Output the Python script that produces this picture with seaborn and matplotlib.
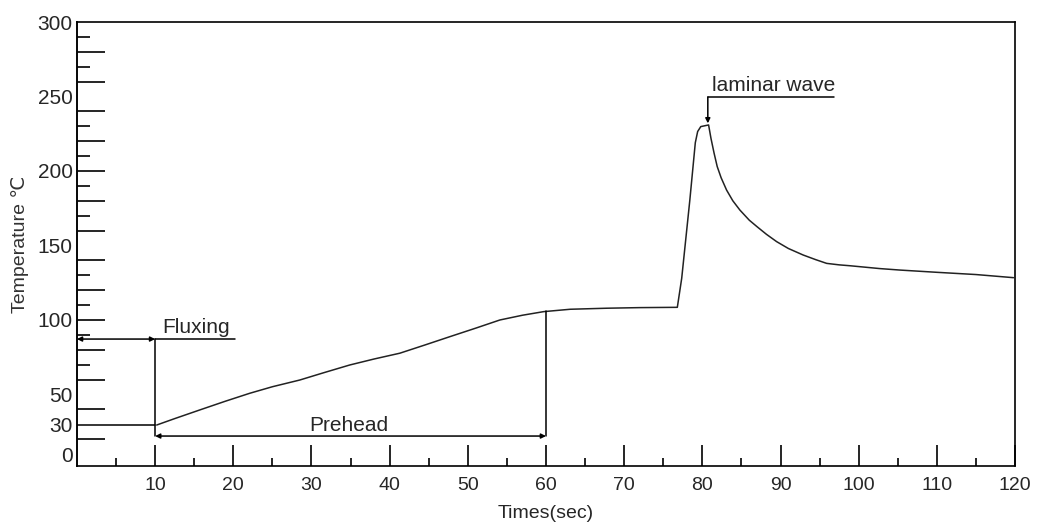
import matplotlib
matplotlib.use("Agg")
import matplotlib.pyplot as plt
from matplotlib import font_manager
import seaborn as sns
import pandas as pd

# temperature profile (time in s, temperature in degC)
time_s = [10.2, 12.5, 15.7, 19.0, 22.1, 25.0, 28.5, 31.5, 34.9, 38.0, 41.3, 44.5,
          47.7, 51.0, 54.1, 57.0, 59.7, 63.1, 67.8, 72.0, 76.8, 77.36, 78.4, 79.1,
          79.4, 79.8, 80.8, 81.1, 81.5, 81.9, 82.4, 83.1, 83.9, 84.8, 86.0, 87.0,
          88.2, 89.5, 91.0, 92.9, 94.5, 95.9, 97.5, 98.9, 102.7, 105.3, 110.0,
          115.0, 119.8]
temp_c = [29.5, 33.8, 39.6, 45.5, 50.8, 55.2, 59.7, 64.5, 69.8, 73.8, 77.7, 83.2,
          88.8, 94.5, 100.0, 103.2, 105.6, 107.2, 107.9, 108.3, 108.5, 128.0, 180.5, 219.0,
          226.5, 229.8, 230.9, 222.0, 212.0, 203.0, 195.5, 187.2, 180.0, 173.8, 167.0, 162.6,
          157.5, 152.6, 148.0, 143.6, 140.5, 138.0, 137.0, 136.4, 134.5, 133.5, 132.0,
          130.5, 128.4]

# x axis ticks
xtick_major = list(range(10, 130, 10))
xtick_minor = list(range(5, 120, 10))
# y axis labels (the "0" label sits a bit above the baseline in the original)
ytick_pos = [10, 30, 50, 100, 150, 200, 250, 300]
ytick_labels = ['0', '30', '50', '100', '150', '200', '250', '300']
ytick_long = list(range(20, 300, 20))
ytick_short = list(range(10, 300, 20))

# annotation levels
flux_start, flux_end, flux_level, flux_text_end = 0, 10, 87.2, 20.2
start_level = 29.8
pre_start, pre_end, pre_level, pre_top = 10, 60, 22.1, 105.8
lam_x, lam_text_end, lam_level, lam_peak = 80.7, 96.8, 249.7, 232.0

sns.set_style("white")
base_font = "Liberation Sans"
try:
    font_manager.findfont("Liberation Sans Narrow", fallback_to_default=False)
    narrow_font = "Liberation Sans Narrow"
except Exception:
    narrow_font = base_font
plt.rcParams['font.family'] = [base_font, 'DejaVu Sans']

df = pd.DataFrame({'Time': time_s, 'Temp': temp_c})

fig = plt.figure(figsize=(10.4, 5.24), dpi=100)
ax = fig.add_axes([0.074, 0.1107, 0.902, 0.8473])

sns.lineplot(data=df, x='Time', y='Temp', color='#222222', linewidth=1.1, ax=ax)

ax.set_xlim(0, 120)
ax.set_ylim(2, 300)

for sp in ax.spines.values():
    sp.set_color('black')
    sp.set_linewidth(1.2)

ax.set_xticks(xtick_major)
ax.set_xticklabels([str(v) for v in xtick_major], fontfamily=narrow_font, fontsize=14)
ax.set_xticks(xtick_minor, minor=True)
ax.tick_params(axis='x', which='major', direction='in', length=15, width=1.2,
               color='black', pad=8, bottom=True, top=False)
ax.tick_params(axis='x', which='minor', direction='in', length=6, width=1.2,
               color='black', bottom=True, top=False)

ax.set_yticks(ytick_pos)
ax.set_yticklabels(ytick_labels, fontsize=15)
ax.set_yticks(ytick_short, minor=True)
ax.tick_params(axis='y', which='major', direction='in', length=0, pad=3,
               left=True, right=False)
ax.tick_params(axis='y', which='minor', direction='in', length=9, width=1.2,
               color='black', left=True, right=False)
sec = ax.secondary_yaxis('left')
sec.set_yticks(ytick_long)
sec.set_yticklabels([])
sec.tick_params(axis='y', direction='in', length=20, width=1.2, color='black')
sec.spines['left'].set_linewidth(1.2)

ax.set_xlabel('Times(sec)', fontfamily=narrow_font, fontsize=14, labelpad=8)
ax.set_ylabel('Temperature \u2103', fontsize=14, labelpad=6, color='#333333')

line_kw = dict(color='black', linewidth=1.1)
arrow_kw = dict(arrowstyle='<|-|>', color='black', lw=1.1, mutation_scale=7,
                shrinkA=0, shrinkB=0)

# Fluxing
ax.annotate('', xy=(flux_start, flux_level), xytext=(flux_end, flux_level), arrowprops=arrow_kw)
ax.plot([flux_end, flux_text_end], [flux_level, flux_level], **line_kw)
ax.plot([flux_end, flux_end], [flux_level, pre_level], **line_kw)
ax.plot([0, flux_end], [start_level, start_level], **line_kw)
ax.text(flux_end + 0.9, flux_level + 1.2, 'Fluxing', fontsize=15, va='bottom', ha='left')

# Prehead
ax.annotate('', xy=(pre_start, pre_level), xytext=(pre_end, pre_level), arrowprops=arrow_kw)
ax.plot([pre_end, pre_end], [pre_level, pre_top], **line_kw)
ax.text((pre_start + pre_end) / 2 - 0.2, pre_level + 0.4, 'Prehead', fontsize=15,
        va='bottom', ha='center')

# laminar wave
ax.plot([lam_x, lam_text_end], [lam_level, lam_level], **line_kw)
ax.annotate('', xy=(lam_x, lam_peak), xytext=(lam_x, lam_level),
            arrowprops=dict(arrowstyle='-|>', color='black', lw=1.1, mutation_scale=7,
                            shrinkA=0, shrinkB=0))
ax.text(lam_x + 0.5, lam_level + 1.5, 'laminar wave', fontsize=15, va='bottom', ha='left')

fig.savefig('out.png', dpi=100)
